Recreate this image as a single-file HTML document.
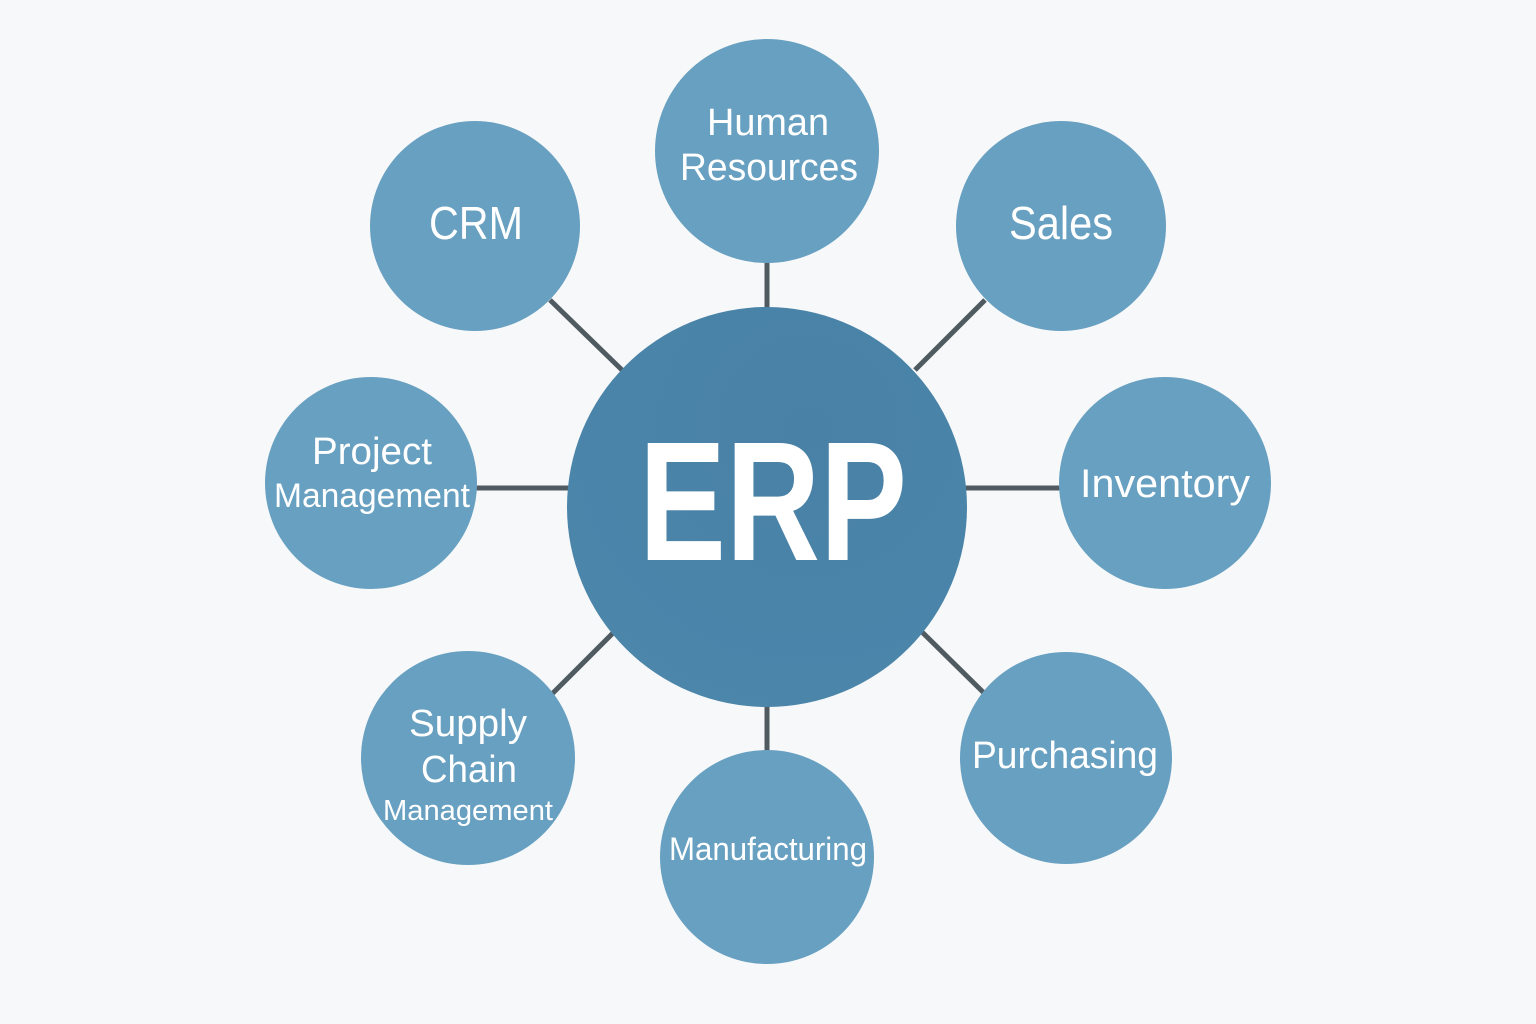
<!DOCTYPE html>
<html><head><meta charset="utf-8"><style>
html,body{margin:0;padding:0;background:#f7f8f9;}
svg{display:block}
text{font-family:"Liberation Sans",sans-serif;fill:#fff;text-anchor:middle;dominant-baseline:central;}
</style></head><body>
<svg width="1536" height="1024" viewBox="0 0 1536 1024">
<rect width="1536" height="1024" fill="#f7f8f9"/>
<g stroke="#4f5a61" stroke-width="5">
<line x1="767" y1="260" x2="767" y2="312"/>
<line x1="985" y1="300" x2="915" y2="370"/>
<line x1="965" y1="488" x2="1062" y2="488"/>
<line x1="922" y1="632" x2="985" y2="694"/>
<line x1="767" y1="704" x2="767" y2="752"/>
<line x1="614" y1="632" x2="552" y2="694"/>
<line x1="475" y1="488" x2="570" y2="488"/>
<line x1="550" y1="300" x2="622" y2="370"/>
</g>
<defs><radialGradient id="g" cx="0.6" cy="0.3" r="0.8"><stop offset="0" stop-color="#4981a6"/><stop offset="1" stop-color="#4c86ab"/></radialGradient></defs>
<circle cx="767" cy="507" r="200" fill="url(#g)"/>
<g fill="#68a0c1">
<circle cx="767" cy="151" r="112"/>
<circle cx="1061" cy="226" r="105"/>
<circle cx="1165" cy="483" r="106"/>
<circle cx="1066" cy="758" r="106"/>
<circle cx="767" cy="857" r="107"/>
<circle cx="468" cy="758" r="107"/>
<circle cx="371" cy="483" r="106"/>
<circle cx="475" cy="226" r="105"/>
</g>
<text x="773" y="502" font-size="170" font-weight="bold" textLength="268" lengthAdjust="spacingAndGlyphs">ERP</text>
<text x="768" y="123" font-size="38" textLength="122" lengthAdjust="spacingAndGlyphs">Human</text>
<text x="769" y="168" font-size="38" textLength="178" lengthAdjust="spacingAndGlyphs">Resources</text>
<text x="476" y="223" font-size="46" textLength="94" lengthAdjust="spacingAndGlyphs">CRM</text>
<text x="1061" y="223" font-size="46" textLength="104" lengthAdjust="spacingAndGlyphs">Sales</text>
<text x="1165" y="484" font-size="40" textLength="170" lengthAdjust="spacingAndGlyphs">Inventory</text>
<text x="372" y="452" font-size="38" textLength="120" lengthAdjust="spacingAndGlyphs">Project</text>
<text x="372" y="496" font-size="34" textLength="196" lengthAdjust="spacingAndGlyphs">Management</text>
<text x="468" y="724" font-size="38" textLength="118" lengthAdjust="spacingAndGlyphs">Supply</text>
<text x="469" y="770" font-size="38" textLength="96" lengthAdjust="spacingAndGlyphs">Chain</text>
<text x="468" y="811" font-size="29" textLength="170" lengthAdjust="spacingAndGlyphs">Management</text>
<text x="768" y="849" font-size="32" textLength="198" lengthAdjust="spacingAndGlyphs">Manufacturing</text>
<text x="1065" y="756" font-size="38" textLength="186" lengthAdjust="spacingAndGlyphs">Purchasing</text>
</svg>
</body></html>
